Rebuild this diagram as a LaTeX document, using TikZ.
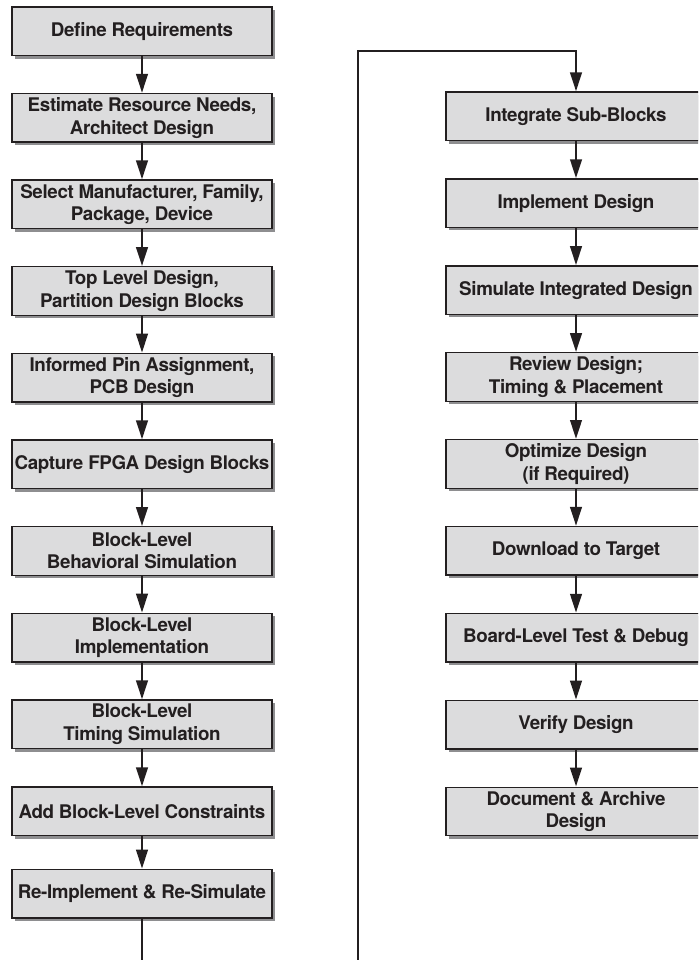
\documentclass[tikz,border=0pt]{standalone}
\usepackage{fontspec}
\setmainfont{TeX Gyre Heros}
\newfontfamily\labelfont[LetterSpace=-2.0]{TeX Gyre Heros}
\usetikzlibrary{arrows.meta,shadows}
\definecolor{boxfill}{HTML}{DCDCDD}
\definecolor{boxshade}{HTML}{8E8E90}
\definecolor{ink}{HTML}{231F20}
\begin{document}
\begin{tikzpicture}[x=1pt,y=-1pt,
  stepbox/.style={rectangle, draw=ink, line width=1.3pt, fill=boxfill,
    minimum width=260pt, minimum height=48.5pt, inner sep=0pt,
    align=center, text=ink,
    font=\labelfont\fontsize{18.8}{22.5}\selectfont\bfseries,
    drop shadow={shadow xshift=3pt, shadow yshift=-3pt, fill=boxshade, opacity=1}},
  flow/.style={draw=ink, line width=2.6pt,
    -{Triangle[length=19pt,width=11.5pt]}},
  loopline/.style={draw=ink, line width=2.6pt, line join=miter,
    -{Triangle[length=19pt,width=11.5pt]}}]
\useasboundingbox (0,0) rectangle (698,960);
\clip (0,0) rectangle (698,960);

% left column
\node[stepbox] (l1)  at (142,31.3)  {Define Requirements};
\node[stepbox] (l2)  at (142,117.8) {Estimate Resource Needs,\\Architect Design};
\node[stepbox] (l3)  at (142,204.3) {Select Manufacturer, Family,\\Package, Device};
\node[stepbox] (l4)  at (142,291)   {Top Level Design,\\Partition Design Blocks};
\node[stepbox] (l5)  at (142,377.6) {Informed Pin Assignment,\\PCB Design};
\node[stepbox] (l6)  at (142,464.3) {Capture FPGA Design Blocks};
\node[stepbox] (l7)  at (142,551)   {Block-Level\\Behavioral Simulation};
\node[stepbox] (l8)  at (142,637.6) {Block-Level\\Implementation};
\node[stepbox] (l9)  at (142,724.3) {Block-Level\\Timing Simulation};
\node[stepbox] (l10) at (142,811.3) {Add Block-Level Constraints};
\node[stepbox] (l11) at (142,893.6) {Re-Implement \& Re-Simulate};

% right column
\node[stepbox] (r1) at (576,116.3) {Integrate Sub-Blocks};
\node[stepbox] (r2) at (576,203.2) {Implement Design};
\node[stepbox] (r3) at (576,290.1) {Simulate Integrated Design};
\node[stepbox] (r4) at (576,377)   {Review Design;\\Timing \& Placement};
\node[stepbox] (r5) at (576,463.9) {Optimize Design\\(if Required)};
\node[stepbox] (r6) at (576,550.8) {Download to Target};
\node[stepbox] (r7) at (576,637.7) {Board-Level Test \& Debug};
\node[stepbox] (r8) at (576,724.6) {Verify Design};
\node[stepbox] (r9) at (576,811.5) {Document \& Archive\\Design};

% connectors
\foreach \a/\b in {l1/l2,l2/l3,l3/l4,l4/l5,l5/l6,l6/l7,l7/l8,l8/l9,l9/l10,l10/l11,
                   r1/r2,r2/r3,r3/r4,r4/r5,r5/r6,r6/r7,r7/r8,r8/r9}
  \draw[flow] (\a) -- (\b);

% return path from the left column to the right column
\coordinate (dropL) at (142,990);
\coordinate (dropR) at (358,990);
\coordinate (topL)  at (358,51);
\coordinate (topR)  at (576,51);
\draw[loopline] (l11.south) -- (dropL) -- (dropR) -- (topL) -- (topR) -- (r1.north);
\end{tikzpicture}
\end{document}
